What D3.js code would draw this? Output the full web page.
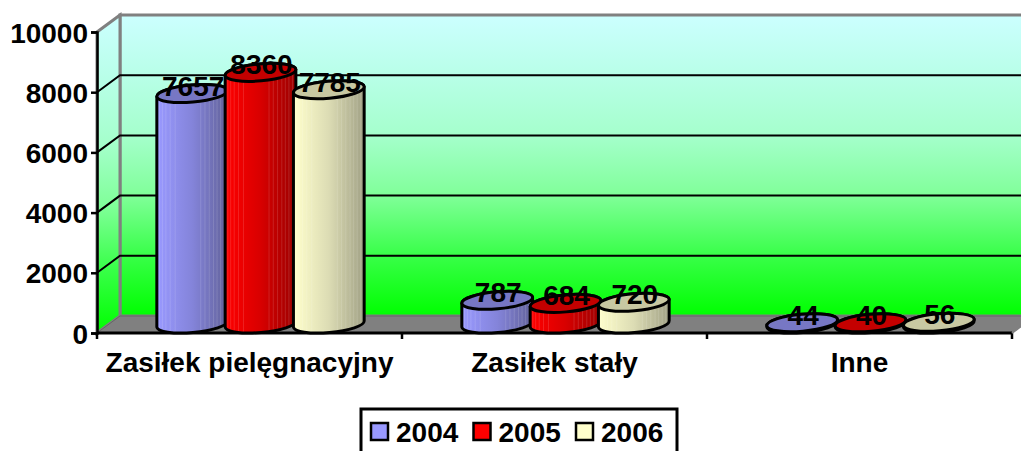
<!DOCTYPE html>
<html>
<head>
<meta charset="utf-8">
<script src="https://cdn.jsdelivr.net/npm/d3@7"></script>
<style>
  html, body { margin: 0; padding: 0; background: #fff; overflow: hidden; }
  svg { display: block; }
  text { font-family: "Liberation Sans", Arial, sans-serif; font-weight: bold; fill: #000; }
</style>
</head>
<body>
<div id="chart"></div>
<script>
const categories = ["Zasiłek pielęgnacyjny", "Zasiłek stały", "Inne"];
const years = ["2004", "2005", "2006"];
const values2004 = [7657, 787, 44];
const values2005 = [8360, 684, 40];
const values2006 = [7785, 720, 56];
const seriesValues = [values2004, values2005, values2006];
const yTicks = [0, 2000, 4000, 6000, 8000, 10000];

// side gradient: left, middle, right, then the top cap
const seriesColors = [
  { light: "#9999ff", mid: "#8484da", dark: "#62629a", top: "#7777c4" },
  { light: "#ff0000", mid: "#d80000", dark: "#9c0000", top: "#c40000" },
  { light: "#ffffcc", mid: "#dcdcb4", dark: "#a2a286", top: "#c8c8a2" }
];
const legendColors = ["#9999ff", "#ff0000", "#ffffcc"];
const wallStops = ["#ccffff", "#b8ffe8", "#a5ffcc", "#80ff99", "#38ff48", "#00ff00"];

const width = 1021, height = 451;
const plot = { left: 97, right: 1012, top: 32, bottom: 333 };
const depth = { x: 23, y: 17 };
const fontSize = "28px";

const svg = d3.select("#chart").append("svg")
  .attr("width", width)
  .attr("height", height);

const x = d3.scaleBand().domain(categories).range([plot.left, plot.right]);
const y = d3.scaleLinear().domain([0, 10000]).range([plot.bottom, plot.top]);
const step = 68.3;
const rx = 35.5, ry = 8.5, tilt = -5;
const tiltRad = tilt * Math.PI / 180;

const defs = svg.append("defs");

const wallGrad = defs.append("linearGradient")
  .attr("id", "wall").attr("x1", 0).attr("y1", 0).attr("x2", 0).attr("y2", 1);
wallStops.forEach((c, i) => {
  wallGrad.append("stop").attr("offset", i / (wallStops.length - 1)).attr("stop-color", c);
});

seriesColors.forEach((c, i) => {
  const g = defs.append("linearGradient").attr("id", `side${i}`);
  g.append("stop").attr("offset", 0).attr("stop-color", c.light);
  g.append("stop").attr("offset", 0.5).attr("stop-color", c.mid);
  g.append("stop").attr("offset", 1).attr("stop-color", c.dark);
});

// walls + floor
const walls = svg.append("g");
const pts = (arr) => arr.map((p) => p.join(",")).join(" ");
const backLeft = plot.left + depth.x;
const backRight = plot.right + depth.x;

walls.append("rect")
  .attr("x", backLeft).attr("y", plot.top - depth.y)
  .attr("width", backRight - backLeft).attr("height", plot.bottom - plot.top)
  .attr("fill", "url(#wall)")
  .attr("stroke", "#808080").attr("stroke-width", 3);

walls.append("polygon")
  .attr("points", pts([
    [plot.left, plot.top], [backLeft, plot.top - depth.y],
    [backLeft, plot.bottom - depth.y], [plot.left, plot.bottom]
  ]))
  .attr("fill", "url(#wall)")
  .attr("stroke", "#808080").attr("stroke-width", 3);

walls.append("polygon")
  .attr("points", pts([
    [plot.left, plot.bottom], [backLeft, plot.bottom - depth.y],
    [backRight, plot.bottom - depth.y], [plot.right, plot.bottom]
  ]))
  .attr("fill", "#808080")
  .attr("stroke", "#666").attr("stroke-width", 1);

// gridlines, back wall and side wall
yTicks.slice(1, -1).forEach((t) => {
  walls.append("polyline")
    .attr("points", pts([
      [plot.left, y(t)], [backLeft, y(t) - depth.y], [backRight, y(t) - depth.y]
    ]))
    .attr("fill", "none").attr("stroke", "#000").attr("stroke-width", 2);
});

// axes
const yAxisG = svg.append("g")
  .attr("transform", `translate(${plot.left},0)`)
  .call(d3.axisLeft(y).tickValues(yTicks).tickFormat(d3.format("d")).tickSize(6).tickPadding(3));
yAxisG.select(".domain").attr("stroke-width", 2.5);
yAxisG.selectAll(".tick line").attr("stroke-width", 2.5);
yAxisG.selectAll(".tick text").style("font-size", fontSize).attr("dy", "0.36em");

const xAxisG = svg.append("g")
  .attr("transform", `translate(0,${plot.bottom})`)
  .call(d3.axisBottom(x).tickSize(0).tickPadding(19));
xAxisG.select(".domain").attr("stroke-width", 3).attr("d", `M${plot.left},0H${plot.right}`);
xAxisG.selectAll(".tick text").style("font-size", fontSize);
xAxisG.selectAll(".sep")
  .data(d3.range(categories.length + 1))
  .join("line")
  .attr("class", "sep")
  .attr("x1", (i) => plot.left + i * x.bandwidth())
  .attr("x2", (i) => plot.left + i * x.bandwidth())
  .attr("y1", 0).attr("y2", 6)
  .attr("stroke", "#000").attr("stroke-width", 2.5);
xAxisG.append("line")
  .attr("x1", plot.right).attr("y1", 0)
  .attr("x2", backRight).attr("y2", -depth.y)
  .attr("stroke", "#808080").attr("stroke-width", 2);

// cylinders
const bars = svg.append("g");
const labels = svg.append("g");
const seamFractions = [0.04, 0.08, 0.13, 0.19, 0.26, 0.62, 0.68, 0.74, 0.8, 0.85, 0.9, 0.95];
const baseY = plot.bottom - depth.y / 2 - 0.5;

categories.forEach((cat, ci) => {
  const groupCx = x(cat) + x.bandwidth() / 2 + 11;
  seriesValues.forEach((vals, si) => {
    const v = vals[ci];
    const cx = groupCx + (si - 1) * step;
    const topY = baseY - (y(0) - y(v));
    const dx = rx * Math.cos(tiltRad), dy = rx * Math.sin(tiltRad);
    const id = `clip${ci}-${si}`;
    const sidePath =
      `M${cx - dx},${topY - dy}L${cx - dx},${baseY - dy}` +
      `A${rx},${ry} ${tilt} 0 0 ${cx + dx},${baseY + dy}` +
      `L${cx + dx},${topY + dy}` +
      `A${rx},${ry} ${tilt} 0 0 ${cx - dx},${topY - dy}Z`;

    defs.append("clipPath").attr("id", id).append("path").attr("d", sidePath);

    const bar = bars.append("g");
    bar.append("path").attr("d", sidePath).attr("fill", `url(#side${si})`);
    bar.append("g").attr("clip-path", `url(#${id})`)
      .selectAll("line")
      .data(seamFractions)
      .join("line")
      .attr("x1", (f) => cx - rx + 2 * rx * f)
      .attr("x2", (f) => cx - rx + 2 * rx * f)
      .attr("y1", topY - ry - 5).attr("y2", baseY + ry + 5)
      .attr("stroke", "#fff").attr("stroke-opacity", 0.13);
    bar.append("path").attr("d", sidePath)
      .attr("fill", "none").attr("stroke", "#000").attr("stroke-width", 3);
    bar.append("ellipse")
      .attr("cx", cx).attr("cy", topY)
      .attr("rx", rx).attr("ry", ry)
      .attr("transform", `rotate(${tilt} ${cx} ${topY})`)
      .attr("fill", seriesColors[si].top)
      .attr("stroke", "#000").attr("stroke-width", 3);

    labels.append("text")
      .attr("x", cx + 1).attr("y", topY + 2)
      .attr("text-anchor", "middle")
      .style("font-size", fontSize)
      .text(v);
  });
});

// legend, runs off the bottom of the picture
const legend = svg.append("g").attr("transform", "translate(361,409)");
legend.append("rect")
  .attr("width", 316).attr("height", 50)
  .attr("fill", "#fff").attr("stroke", "#000").attr("stroke-width", 3);
years.forEach((yr, i) => {
  const lx = 10 + i * 102.5;
  legend.append("rect")
    .attr("x", lx).attr("y", 14).attr("width", 17).attr("height", 17)
    .attr("fill", legendColors[i]).attr("stroke", "#000").attr("stroke-width", 2.5);
  legend.append("text")
    .attr("x", lx + 25).attr("y", 33)
    .style("font-size", fontSize)
    .text(yr);
});
</script>
</body>
</html>
